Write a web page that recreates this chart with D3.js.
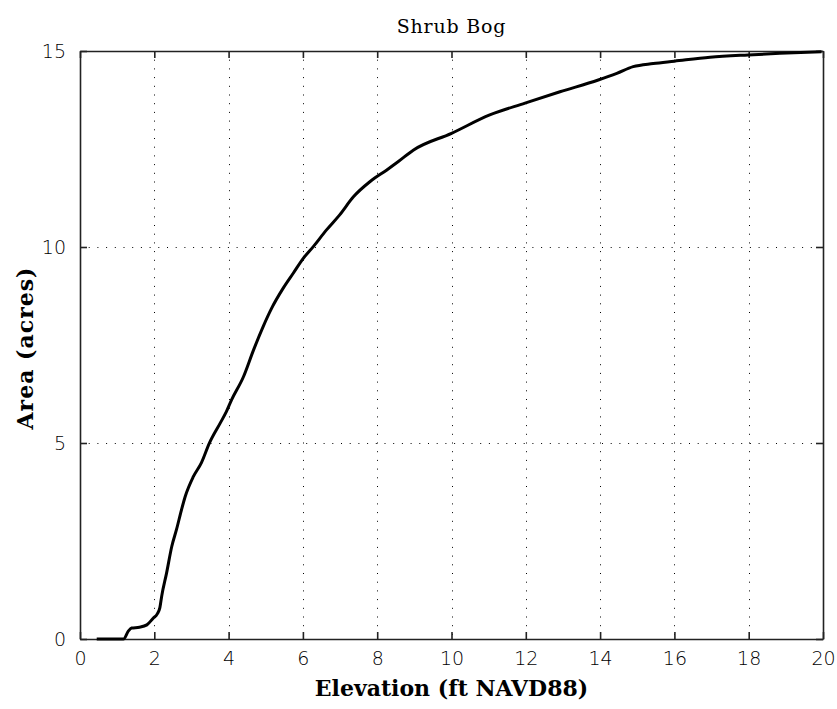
<!DOCTYPE html>
<html>
<head>
<meta charset="utf-8">
<script src="https://cdn.jsdelivr.net/npm/d3@7"></script>
<style>
  body { margin: 0; background: #fff; }
  .tick text { font-family: "DejaVu Sans", sans-serif; font-weight: 200; }
</style>
</head>
<body>
<svg class="svgChart"></svg>
<script>
// set the dimensions and margins of the graph
var margin = {top: 51, right: 14, bottom: 70, left: 80};
var width = 837 - margin.left - margin.right;
var height = 709 - margin.top - margin.bottom;

// elevation (ft NAVD88) vs area (acres)
var elevation = [0.45, 1.17, 1.3, 1.39, 1.6, 1.8, 1.97, 2.08, 2.15, 2.2, 2.33, 2.47, 2.6, 2.73, 2.83,
  3.05, 3.27, 3.48, 3.77, 3.94, 4.08, 4.4, 4.67, 4.93, 5.16, 5.47, 5.74, 6.01, 6.28, 6.63, 6.99,
  7.36, 7.81, 8.25, 8.57, 8.97, 10.0, 11.03, 11.98, 12.92, 13.95, 14.45, 14.89, 15.43, 16.0,
  16.96, 17.98, 18.84, 19.96];
var area = [0.0, 0.0, 0.2, 0.28, 0.3, 0.36, 0.53, 0.64, 0.8, 1.1, 1.68, 2.36, 2.8, 3.29, 3.63,
  4.14, 4.5, 4.99, 5.5, 5.8, 6.1, 6.69, 7.37, 7.97, 8.44, 8.95, 9.33, 9.71, 10.01, 10.43, 10.82,
  11.28, 11.67, 11.96, 12.18, 12.47, 12.9, 13.37, 13.67, 13.96, 14.26, 14.43, 14.6, 14.68, 14.74,
  14.84, 14.9, 14.94, 14.98];

var xTicks = [0, 2, 4, 6, 8, 10, 12, 14, 16, 18, 20];
var yTicks = [0, 5, 10, 15];

var svg = d3.select('.svgChart')
    .attr('width', 837)
    .attr('height', 709);

var g = svg.append('g')
    .attr('transform', 'translate(' + margin.left + ',' + margin.top + ')');

var xScale = d3.scaleLinear().domain([0, 20]).range([0, width]);
var yScale = d3.scaleLinear().domain([0, 15]).range([height, 0]);

// dotted grid
g.append('g')
    .selectAll('line')
    .data(xTicks.slice(1, -1))
    .enter()
    .append('line')
      .attr('x1', d => Math.round(xScale(d)) + 0.5)
      .attr('x2', d => Math.round(xScale(d)) + 0.5)
      .attr('y1', 0)
      .attr('y2', height)
      .attr('stroke', '#000')
      .attr('stroke-dasharray', '1,7.7');

g.append('g')
    .selectAll('line')
    .data(yTicks.slice(1, -1))
    .enter()
    .append('line')
      .attr('y1', d => Math.round(yScale(d)) + 0.5)
      .attr('y2', d => Math.round(yScale(d)) + 0.5)
      .attr('x1', 0)
      .attr('x2', width)
      .attr('stroke', '#000')
      .attr('stroke-dasharray', '1,7.7');

// axes (ticks pointing inward, on all four sides)
var tickLen = 7;
g.append('g')
    .attr('transform', 'translate(0,' + height + ')')
    .call(d3.axisBottom(xScale).tickValues(xTicks).tickSize(-tickLen).tickPadding(tickLen + 6).tickSizeOuter(0))
    .call(s => s.selectAll('text').attr('font-size', 19).attr('fill', '#000'));

g.append('g')
    .call(d3.axisTop(xScale).tickValues(xTicks).tickSize(-tickLen).tickSizeOuter(0))
    .call(s => s.selectAll('text').remove());

g.append('g')
    .call(d3.axisLeft(yScale).tickValues(yTicks).tickSize(-tickLen).tickPadding(tickLen + 7).tickSizeOuter(0))
    .call(s => s.selectAll('text').attr('font-size', 19).attr('fill', '#000'));

g.append('g')
    .attr('transform', 'translate(' + width + ',0)')
    .call(d3.axisRight(yScale).tickValues(yTicks).tickSize(-tickLen).tickSizeOuter(0))
    .call(s => s.selectAll('text').remove());

g.selectAll('.domain, .tick line')
    .attr('stroke', '#222')
    .attr('stroke-width', 1.6);

// the curve
g.append('path')
    .datum(elevation.map((e, i) => [e, area[i]]))
    .attr('fill', 'none')
    .attr('stroke', '#000')
    .attr('stroke-width', 3)
    .attr('stroke-linejoin', 'round')
    .attr('d', d3.line()
      .x(d => xScale(d[0]))
      .y(d => yScale(d[1]))
      .curve(d3.curveMonotoneX));

// title and axis labels
svg.append('text')
    .attr('x', margin.left + width / 2)
    .attr('y', 33)
    .attr('text-anchor', 'middle')
    .attr('font-family', '"DejaVu Serif", serif')
    .attr('font-size', 19)
    .attr('letter-spacing', 0.8)
    .text('Shrub Bog');

svg.append('text')
    .attr('x', margin.left + width / 2)
    .attr('y', 696)
    .attr('text-anchor', 'middle')
    .attr('font-family', '"DejaVu Serif", serif')
    .attr('font-weight', 'bold')
    .attr('font-size', 22)
    .text('Elevation (ft NAVD88)');

svg.append('text')
    .attr('transform', 'translate(33,' + 348 + ') rotate(-90)')
    .attr('text-anchor', 'middle')
    .attr('font-family', '"DejaVu Serif", serif')
    .attr('font-weight', 'bold')
    .attr('font-size', 22)
    .attr('letter-spacing', 1)
    .text('Area (acres)');
</script>
</body>
</html>
